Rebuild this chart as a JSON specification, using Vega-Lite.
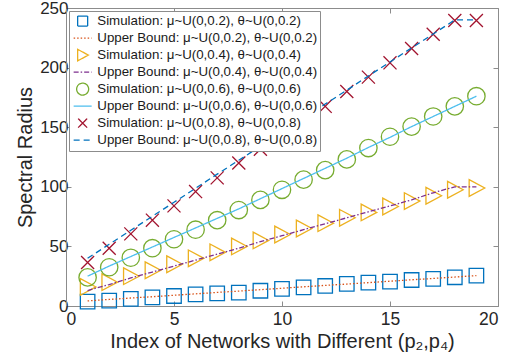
{
  "$schema": "https://vega.github.io/schema/vega-lite/v6.json",
  "width": 432,
  "height": 298,
  "autosize": "none",
  "padding": {"left": 66, "top": 8, "right": 11, "bottom": 54},
  "config": {
    "font": "Liberation Sans",
    "view": {"stroke": "#8c8c8c", "strokeWidth": 1},
    "axis": {
      "grid": false,
      "domainColor": "#8c8c8c",
      "tickColor": "#8c8c8c",
      "labelColor": "#262626",
      "titleColor": "#262626",
      "labelFont": "Liberation Sans",
      "titleFont": "Liberation Sans",
      "labelFontSize": 17.5,
      "titleFontSize": 20,
      "titleFontWeight": "normal",
      "tickSize": -5
    },
    "axisX": {"labelPadding": 9},
    "axisY": {"labelPadding": 3, "labelFontSize": 17},
    "legend": {"title": null, "orient": "top-left", "offset": 3, "padding": 2, "rowPadding": 0, "clipHeight": 16.2, "labelFontSize": 13.3, "labelFont": "Liberation Sans", "labelColor": "#1a1a1a", "labelLimit": 400, "strokeColor": "#8c8c8c", "fillColor": "white", "symbolStrokeWidth": 1.3, "symbolOffset": 5, "labelOffset": 8}
  },
  "data": {
    "values": [
      {"x":1,"y":3.6,"g":"S0.2"},{"x":2,"y":4.5,"g":"S0.2"},{"x":3,"y":5.9,"g":"S0.2"},{"x":4,"y":7.3,"g":"S0.2"},{"x":5,"y":8.4,"g":"S0.2"},{"x":6,"y":9.8,"g":"S0.2"},{"x":7,"y":10.6,"g":"S0.2"},{"x":8,"y":11.2,"g":"S0.2"},{"x":9,"y":12.8,"g":"S0.2"},{"x":10,"y":14.3,"g":"S0.2"},{"x":11,"y":15.7,"g":"S0.2"},{"x":12,"y":16.8,"g":"S0.2"},{"x":13,"y":18.5,"g":"S0.2"},{"x":14,"y":19.6,"g":"S0.2"},{"x":15,"y":20.4,"g":"S0.2"},{"x":16,"y":21.8,"g":"S0.2"},{"x":17,"y":22.7,"g":"S0.2"},{"x":18,"y":24.1,"g":"S0.2"},{"x":19,"y":25.5,"g":"S0.2"},
      {"x":1,"y":4.3,"g":"U0.2"},{"x":2,"y":5.5,"g":"U0.2"},{"x":3,"y":6.7,"g":"U0.2"},{"x":4,"y":7.8,"g":"U0.2"},{"x":5,"y":9.0,"g":"U0.2"},{"x":6,"y":10.2,"g":"U0.2"},{"x":7,"y":11.4,"g":"U0.2"},{"x":8,"y":12.5,"g":"U0.2"},{"x":9,"y":13.7,"g":"U0.2"},{"x":10,"y":14.9,"g":"U0.2"},{"x":11,"y":16.1,"g":"U0.2"},{"x":12,"y":17.3,"g":"U0.2"},{"x":13,"y":18.4,"g":"U0.2"},{"x":14,"y":19.6,"g":"U0.2"},{"x":15,"y":20.8,"g":"U0.2"},{"x":16,"y":22.0,"g":"U0.2"},{"x":17,"y":23.1,"g":"U0.2"},{"x":18,"y":24.3,"g":"U0.2"},{"x":19,"y":25.5,"g":"U0.2"},
      {"x":1,"y":16,"g":"S0.4"},{"x":2,"y":20,"g":"S0.4"},{"x":3,"y":25,"g":"S0.4"},{"x":4,"y":30,"g":"S0.4"},{"x":5,"y":35,"g":"S0.4"},{"x":6,"y":40,"g":"S0.4"},{"x":7,"y":45,"g":"S0.4"},{"x":8,"y":50,"g":"S0.4"},{"x":9,"y":55,"g":"S0.4"},{"x":10,"y":60,"g":"S0.4"},{"x":11,"y":65,"g":"S0.4"},{"x":12,"y":69.5,"g":"S0.4"},{"x":13,"y":74,"g":"S0.4"},{"x":14,"y":78.5,"g":"S0.4"},{"x":15,"y":83.5,"g":"S0.4"},{"x":16,"y":88,"g":"S0.4"},{"x":17,"y":92.5,"g":"S0.4"},{"x":18,"y":97.5,"g":"S0.4"},{"x":19,"y":99,"g":"S0.4"},
      {"x":1,"y":13,"g":"U0.4"},{"x":2,"y":18,"g":"U0.4"},{"x":3,"y":23.5,"g":"U0.4"},{"x":4,"y":28.5,"g":"U0.4"},{"x":5,"y":33.5,"g":"U0.4"},{"x":6,"y":38.5,"g":"U0.4"},{"x":7,"y":43.5,"g":"U0.4"},{"x":8,"y":48.5,"g":"U0.4"},{"x":9,"y":54,"g":"U0.4"},{"x":10,"y":59,"g":"U0.4"},{"x":11,"y":64,"g":"U0.4"},{"x":12,"y":69,"g":"U0.4"},{"x":13,"y":74,"g":"U0.4"},{"x":14,"y":79,"g":"U0.4"},{"x":15,"y":84,"g":"U0.4"},{"x":16,"y":89,"g":"U0.4"},{"x":17,"y":95,"g":"U0.4"},{"x":18,"y":100,"g":"U0.4"},{"x":19,"y":100,"g":"U0.4"},
      {"x":1,"y":24,"g":"S0.6"},{"x":2,"y":32.5,"g":"S0.6"},{"x":3,"y":40.5,"g":"S0.6"},{"x":4,"y":48.5,"g":"S0.6"},{"x":5,"y":56,"g":"S0.6"},{"x":6,"y":64,"g":"S0.6"},{"x":7,"y":72,"g":"S0.6"},{"x":8,"y":80.5,"g":"S0.6"},{"x":9,"y":89,"g":"S0.6"},{"x":10,"y":97.5,"g":"S0.6"},{"x":11,"y":106,"g":"S0.6"},{"x":12,"y":114,"g":"S0.6"},{"x":13,"y":123,"g":"S0.6"},{"x":14,"y":132.5,"g":"S0.6"},{"x":15,"y":142,"g":"S0.6"},{"x":16,"y":150.5,"g":"S0.6"},{"x":17,"y":159,"g":"S0.6"},{"x":18,"y":167.5,"g":"S0.6"},{"x":19,"y":176,"g":"S0.6"},
      {"x":1,"y":25,"g":"U0.6"},{"x":2,"y":33.5,"g":"U0.6"},{"x":3,"y":41.5,"g":"U0.6"},{"x":4,"y":49.5,"g":"U0.6"},{"x":5,"y":57.5,"g":"U0.6"},{"x":6,"y":65.5,"g":"U0.6"},{"x":7,"y":73.5,"g":"U0.6"},{"x":8,"y":81.5,"g":"U0.6"},{"x":9,"y":90,"g":"U0.6"},{"x":10,"y":98.5,"g":"U0.6"},{"x":11,"y":107,"g":"U0.6"},{"x":12,"y":115.5,"g":"U0.6"},{"x":13,"y":124,"g":"U0.6"},{"x":14,"y":133,"g":"U0.6"},{"x":15,"y":141.5,"g":"U0.6"},{"x":16,"y":150.5,"g":"U0.6"},{"x":17,"y":159,"g":"U0.6"},{"x":18,"y":167.5,"g":"U0.6"},{"x":19,"y":176,"g":"U0.6"},
      {"x":1,"y":36.5,"g":"S0.8"},{"x":2,"y":48.5,"g":"S0.8"},{"x":3,"y":60.5,"g":"S0.8"},{"x":4,"y":72,"g":"S0.8"},{"x":5,"y":84,"g":"S0.8"},{"x":6,"y":96,"g":"S0.8"},{"x":7,"y":107.5,"g":"S0.8"},{"x":8,"y":120,"g":"S0.8"},{"x":9,"y":131.5,"g":"S0.8"},{"x":10,"y":143.5,"g":"S0.8"},{"x":11,"y":155.5,"g":"S0.8"},{"x":12,"y":167.5,"g":"S0.8"},{"x":13,"y":180,"g":"S0.8"},{"x":14,"y":192,"g":"S0.8"},{"x":15,"y":204,"g":"S0.8"},{"x":16,"y":216,"g":"S0.8"},{"x":17,"y":228,"g":"S0.8"},{"x":18,"y":239.5,"g":"S0.8"},{"x":19,"y":239.5,"g":"S0.8"},
      {"x":1,"y":40,"g":"U0.8"},{"x":2,"y":51.8,"g":"U0.8"},{"x":3,"y":63.5,"g":"U0.8"},{"x":4,"y":75.3,"g":"U0.8"},{"x":5,"y":87,"g":"U0.8"},{"x":6,"y":98.8,"g":"U0.8"},{"x":7,"y":110.6,"g":"U0.8"},{"x":8,"y":122.3,"g":"U0.8"},{"x":9,"y":134,"g":"U0.8"},{"x":10,"y":145.9,"g":"U0.8"},{"x":11,"y":157.6,"g":"U0.8"},{"x":12,"y":169.4,"g":"U0.8"},{"x":13,"y":181,"g":"U0.8"},{"x":14,"y":193,"g":"U0.8"},{"x":15,"y":204.7,"g":"U0.8"},{"x":16,"y":216.5,"g":"U0.8"},{"x":17,"y":228.2,"g":"U0.8"},{"x":18,"y":240,"g":"U0.8"},{"x":19,"y":240,"g":"U0.8"}
    ]
  },
  "layer": [
    {
      "transform": [{"filter": "substring(datum.g,0,1)=='S'"}],
      "mark": {"type": "point", "filled": false, "strokeWidth": 1.3, "opacity": 1, "size": 210},
      "encoding": {
        "x": {"field": "x", "type": "quantitative", "scale": {"domain": [0, 20]}, "axis": {"values": [0, 5, 10, 15, 20], "title": "Index of Networks with Different (p₂,p₄)"}},
        "y": {"field": "y", "type": "quantitative", "scale": {"domain": [0, 250]}, "axis": {"values": [0, 50, 100, 150, 200, 250], "title": "Spectral Radius"}},
        "color": {"field": "g", "type": "nominal",
          "scale": {"domain": ["S0.2","U0.2","S0.4","U0.4","S0.6","U0.6","S0.8","U0.8"], "range": ["#0072BD","#D95319","#EDB120","#7E2F8E","#77AC30","#4DBEEE","#A2142F","#0072BD"]},
          "legend": {"labelExpr": "(substring(datum.label,0,1)=='S'?'Simulation: ':'Upper Bound: ')+'μ~U(0,'+substring(datum.label,1)+'), θ~U(0,'+substring(datum.label,1)+')'"}},
        "shape": {"field": "g", "type": "nominal",
          "scale": {"domain": ["S0.2","U0.2","S0.4","U0.4","S0.6","U0.6","S0.8","U0.8"], "range": ["square","M-1.8,0H1.8","M-1,-1.15L1.15,0L-1,1.15Z","M-1.8,0H1.8","M-1.2,0A1.2,1.2,0,1,1,1.2,0A1.2,1.2,0,1,1,-1.2,0Z","M-1.8,0H1.8","M-0.9,-0.9L0.9,0.9M0.9,-0.9L-0.9,0.9","M-1.8,0H1.8"]},
          "legend": {"labelExpr": "(substring(datum.label,0,1)=='S'?'Simulation: ':'Upper Bound: ')+'μ~U(0,'+substring(datum.label,1)+'), θ~U(0,'+substring(datum.label,1)+')'"}}
      }
    },
    {
      "transform": [{"filter": "substring(datum.g,0,1)=='U'"}],
      "mark": {"type": "line", "strokeWidth": 1.3},
      "encoding": {
        "x": {"field": "x", "type": "quantitative", "scale": {"domain": [0, 20]}, "axis": {"orient": "top", "values": [0, 5, 10, 15, 20], "labels": false, "title": null, "domain": false}},
        "y": {"field": "y", "type": "quantitative", "scale": {"domain": [0, 250]}, "axis": {"orient": "right", "values": [0, 50, 100, 150, 200, 250], "labels": false, "title": null, "domain": false}},
        "color": {"field": "g", "type": "nominal",
          "scale": {"domain": ["S0.2","U0.2","S0.4","U0.4","S0.6","U0.6","S0.8","U0.8"], "range": ["#0072BD","#D95319","#EDB120","#7E2F8E","#77AC30","#4DBEEE","#A2142F","#0072BD"]},
          "legend": {"labelExpr": "(substring(datum.label,0,1)=='S'?'Simulation: ':'Upper Bound: ')+'μ~U(0,'+substring(datum.label,1)+'), θ~U(0,'+substring(datum.label,1)+')'"}},
        "strokeDash": {"field": "g", "type": "nominal",
          "scale": {"domain": ["S0.2","U0.2","S0.4","U0.4","S0.6","U0.6","S0.8","U0.8"], "range": [[1,0],[1.5,2],[1,0],[5,2,1.5,2],[1,0],[1,0],[1,0],[6,4]]},
          "legend": {"labelExpr": "(substring(datum.label,0,1)=='S'?'Simulation: ':'Upper Bound: ')+'μ~U(0,'+substring(datum.label,1)+'), θ~U(0,'+substring(datum.label,1)+')'"}}
      }
    }
  ],
  "resolve": {"axis": {"x": "independent", "y": "independent"}}
}
